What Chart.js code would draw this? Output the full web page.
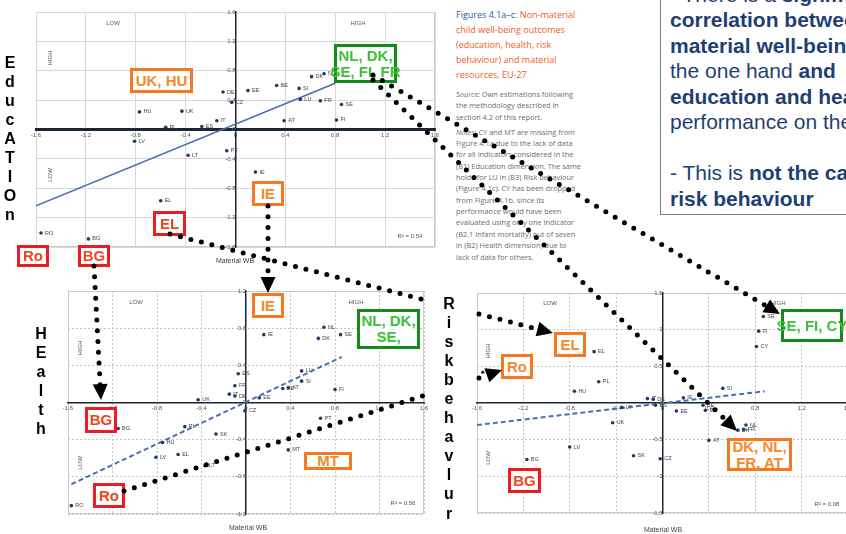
<!DOCTYPE html>
<html>
<head>
<meta charset="utf-8">
<script src="https://cdn.jsdelivr.net/npm/chart.js@4.4.1/dist/chart.umd.min.js"></script>
<style>
  body { margin: 0; background: #fff; }
  #stage { position: relative; width: 846px; height: 534px; overflow: hidden; background: #fff;
           font-family: "Liberation Sans", Arial, sans-serif; }
  canvas { position: absolute; }
  .col { position: absolute; width: 22px; text-align: center; font-weight: bold; font-size: 16px;
         line-height: 19.1px; color: #000; }
  .tag { position: absolute; box-sizing: border-box; border: 3px solid; background: #fff;
         font-weight: bold; font-size: 15px; line-height: 16px; text-align: center;
         display: flex; align-items: center; justify-content: center; white-space: nowrap; }
  .org { border-color: #f47920; color: #f7892a; }
  .red { border-color: #ec1c24; color: #f2461e; }
  .grn { border-color: #178a1e; color: #3cc23a; }
  .q { position: absolute; font-size: 6px; color: #555; white-space: nowrap; transform: translate(-50%, -50%); }
  .qv { position: absolute; font-size: 6px; color: #555; white-space: nowrap; transform: translate(-50%, -50%) rotate(-90deg); }
  .wb { position: absolute; font-size: 7px; color: #444; white-space: nowrap; transform: translate(-50%, -50%); }
  #caption { position: absolute; left: 456px; top: 7px; font-family: "Open Sans", sans-serif; font-size: 9px;
             line-height: 15px; color: #f15a29; white-space: nowrap; }
  #caption .lead { color: #2c5aa0; }
  #notes { position: absolute; left: 456px; top: 89px; font-family: "Open Sans", sans-serif; font-size: 7.4px;
           line-height: 11.36px; color: #6d6d6d; white-space: nowrap; }
  #msg { position: absolute; left: 660px; top: -40px; width: 230px; height: 255px; box-sizing: border-box;
         border: 1.5px solid #808080; background: #fff; }
  #msgText { position: absolute; left: 670px; top: -18.25px; font-size: 21px; line-height: 25.5px;
             color: #1f3f74; white-space: nowrap; }
  #arrows { position: absolute; left: 0; top: 0; }
</style>
</head>
<body>
<div id="stage">
  <canvas id="cEdu" width="430" height="262" style="left:20px;top:0px"></canvas>
  <canvas id="cHealth" width="388" height="245" style="left:52px;top:281px"></canvas>
  <canvas id="cRisk" width="403" height="242" style="left:461px;top:283px"></canvas>

  <!-- quadrant captions and axis titles -->
  <div class="q" style="left:113px;top:23px">LOW</div>
  <div class="q" style="left:358px;top:23px">HIGH</div>
  <div class="qv" style="left:50px;top:58px">HIGH</div>
  <div class="qv" style="left:50px;top:175px">LOW</div>
  <div class="q" style="left:410px;top:236px">R² = 0.54</div>
  <div class="wb" style="left:235px;top:260px">Material WB</div>

  <div class="q" style="left:136px;top:302px">LOW</div>
  <div class="q" style="left:356px;top:302px">HIGH</div>
  <div class="qv" style="left:80px;top:348px">HIGH</div>
  <div class="qv" style="left:80px;top:463px">LOW</div>
  <div class="q" style="left:403px;top:503px">R² = 0.56</div>
  <div class="wb" style="left:248px;top:527px">Material WB</div>

  <div class="q" style="left:550px;top:303px">LOW</div>
  <div class="q" style="left:778px;top:303px">HIGH</div>
  <div class="qv" style="left:488px;top:351px">HIGH</div>
  <div class="qv" style="left:488px;top:458px">LOW</div>
  <div class="q" style="left:827px;top:504px">R² = 0.08</div>
  <div class="wb" style="left:663px;top:529px">Material WB</div>

  <!-- dimension names written down the side of each panel -->
  <div class="col" style="left:-1px;top:52.5px">E<br>d<br>u<br>c<br>A<br>T<br>I<br>O<br>n</div>
  <div class="col" style="left:30px;top:323.5px">H<br>E<br>a<br>l<br>t<br>h</div>
  <div class="col" style="left:438px;top:293.5px">R<br>i<br>s<br>k<br>b<br>e<br>h<br>a<br>v<br>l<br>u<br>r</div>

  <div id="caption">
    <span class="lead">Figures 4.1a–c: </span>Non-material<br>
    child well-being outcomes<br>
    (education, health, risk<br>
    behaviour) and material<br>
    resources, EU-27
  </div>
  <div id="notes">
    <i>Source:</i> Own estimations following<br>
    the methodology described in<br>
    section 4.2 of this report.<br>
    <div style="height:3.5px"></div>
    <i>Notes:</i> CY and MT are missing from<br>
    Figure 4.1a due to the lack of data<br>
    for all indicators considered in the<br>
    (B1) Education dimension. The same<br>
    holds for LU in (B3) Risk behaviour<br>
    (Figure 4.1c). CY has been dropped<br>
    from Figure 4.1b, since its<br>
    performance would have been<br>
    evaluated using only one indicator<br>
    (B2.1 Infant mortality) out of seven<br>
    in (B2) Health dimension, due to<br>
    lack of data for others.
  </div>

  <div id="msg"></div>
  <div id="msgText">
    - There is a <b>significant</b><br>
    <b>correlation between</b><br>
    <b>material well-being</b> on<br>
    the one hand <b>and</b><br>
    <b>education and health</b><br>
    performance on the other<br>
    <br>
    - This is <b>not the case</b> for<br>
    <b>risk behaviour</b>
  </div>

  <!-- country call-outs -->
  <div class="tag org" style="left:130px;top:68px;width:63px;height:25px">UK, HU</div>
  <div class="tag grn" style="left:334px;top:44px;width:63px;height:39px">NL, DK,<br>SE, FI, FR</div>
  <div class="tag org" style="left:252px;top:181px;width:32px;height:25px">IE</div>
  <div class="tag red" style="left:153px;top:211px;width:33px;height:25px">EL</div>
  <div class="tag red" style="left:17px;top:245px;width:32px;height:22px">Ro</div>
  <div class="tag red" style="left:78px;top:245px;width:32px;height:22px">BG</div>

  <div class="tag org" style="left:252px;top:293px;width:32px;height:25px">IE</div>
  <div class="tag grn" style="left:357px;top:309px;width:63px;height:40px">NL, DK,<br>SE,</div>
  <div class="tag red" style="left:85px;top:407px;width:32px;height:26px">BG</div>
  <div class="tag org" style="left:304px;top:452px;width:48px;height:18px">MT</div>
  <div class="tag red" style="left:93px;top:483px;width:32px;height:25px">Ro</div>

  <div class="tag org" style="left:554px;top:332px;width:32px;height:25px">EL</div>
  <div class="tag org" style="left:501px;top:354px;width:32px;height:25px">Ro</div>
  <div class="tag grn" style="left:781px;top:309px;width:62px;height:33px">SE, FI, CY</div>
  <div class="tag org" style="left:727px;top:438px;width:65px;height:33px">DK, NL,<br>FR, AT</div>
  <div class="tag red" style="left:508px;top:468px;width:33px;height:25px">BG</div>

  <svg id="arrows" width="846" height="534"></svg>
</div>

<script>
// ---- Education (B1) vs material well-being ----
const eduCodes = ['RO','BG','EL','LT','LV','HU','UK','PL','ES','IT','DE','CZ','PT','IE','EE','AT','BE','SI','LU','FR','DK','NL','FI','SE','SK'];
const eduX     = [-1.56,-1.18,-0.60,-0.38,-0.81,-0.77,-0.43,-0.56,-0.27,-0.15,-0.10,-0.03,-0.07,0.16,0.10,0.39,0.33,0.51,0.52,0.68,0.61,0.71,0.81,0.85,0.86];
const eduY     = [-1.41,-1.49,-0.97,-0.35,-0.16,0.24,0.25,0.03,0.04,0.12,0.51,0.37,-0.29,-0.58,0.53,0.12,0.60,0.56,0.41,0.39,0.72,0.76,0.13,0.34,0.67];
const eduFitX  = [-1.6, 0.8];
const eduFitY  = [-1.04, 0.63];

// ---- Health (B2) vs material well-being ----
const healthCodes = ['RO','BG','PL','HU','LV','EL','LT','SK','UK','IT','DE','FR','ES','CZ','EE','IE','NL','DK','SE','LU','SI','AT','BE','FI','PT','MT'];
const healthX     = [-1.57,-1.15,-0.55,-0.75,-0.81,-0.61,-0.37,-0.27,-0.43,-0.15,-0.10,-0.10,-0.07,-0.01,0.12,0.16,0.70,0.65,0.85,0.50,0.50,0.38,0.33,0.80,0.67,0.38];
const healthY     = [-1.11,-0.28,-0.26,-0.43,-0.59,-0.56,-0.68,-0.34,0.03,0.09,0.07,0.18,0.31,-0.09,0.05,0.73,0.81,0.69,0.73,0.34,0.23,0.16,0.15,0.14,-0.17,-0.51];
const healthFitX  = [-1.57, 0.86];
const healthFitY  = [-0.88, 0.49];

// ---- Risk behaviour (B3) vs material well-being ----
const riskCodes = ['EL','PL','HU','RO','IT','DE','ES','EE','LT','UK','LV','BG','SK','CZ','IE','BE','MT','SI','AT','NL','DK','FR','FI','CY','SE'];
const riskX     = [-0.59,-0.55,-0.76,-1.55,-0.13,-0.08,-0.06,0.12,-0.35,-0.43,-0.80,-1.17,-0.25,-0.02,0.18,0.35,0.37,0.52,0.40,0.72,0.65,0.70,0.83,0.81,0.87];
const riskY     = [0.70,0.29,0.16,0.42,0.06,0.05,-0.03,-0.11,-0.06,-0.27,-0.60,-0.77,-0.72,-0.76,0.07,-0.03,-0.10,0.20,-0.51,-0.30,-0.37,-0.36,0.98,0.77,1.18];
const riskFitX  = [-1.6, 0.88];
const riskFitY  = [-0.30, 0.16];

// tick values on each axis
const wbTicks     = [-1.6,-1.2,-0.8,-0.4,0,0.4,0.8,1.2,1.6];
const eduTicks    = [-1.6,-1.2,-0.8,-0.4,0,0.4,0.8,1.2,1.6];
const healthTicks = [-1.2,-0.8,-0.4,0,0.4,0.8,1.2];
const riskTicks   = [-1.5,-1,-0.5,0,0.5,1,1.5];

const pairs = (xs, ys) => xs.map((x, i) => ({ x, y: ys[i] }));

// small country codes beside each point
const codeLabels = {
  id: 'codeLabels',
  afterDatasetsDraw(chart) {
    const ds = chart.data.datasets[0];
    const meta = chart.getDatasetMeta(0);
    const ctx = chart.ctx;
    ctx.save();
    ctx.font = '5.5px "Liberation Sans", Arial, sans-serif';
    ctx.fillStyle = '#444';
    ctx.textBaseline = 'middle';
    meta.data.forEach((el, i) => ctx.fillText(ds.codes[i], el.x + 4, el.y));
    ctx.restore();
  }
};

// light frame round the plotting area
const frame = {
  id: 'frame',
  beforeDraw(chart) {
    const a = chart.chartArea, ctx = chart.ctx;
    ctx.save();
    ctx.strokeStyle = '#c9c9c9';
    ctx.lineWidth = 1;
    ctx.strokeRect(a.left + 0.5, a.top + 0.5, a.right - a.left - 1, a.bottom - a.top - 1);
    ctx.restore();
  }
};

function panel(id, cfg) {
  const gridColor = c => (c.tick && c.tick.value === 0) ? 'rgba(0,0,0,0)' : cfg.gridColor;
  const fmt = cfg.fmt;
  const axisBase = (ticks, min, max, pos, bw) => ({
    type: 'linear', min, max, position: pos,
    afterBuildTicks: s => { s.ticks = ticks.map(v => ({ value: v })); },
    grid: { color: gridColor, lineWidth: 1, drawTicks: false },
    border: { display: true, color: '#1d2733', width: bw, dash: cfg.gridDash },
    ticks: { font: { size: 6, family: '"Liberation Sans", Arial, sans-serif' }, color: '#555', padding: 2,
             autoSkip: false, maxRotation: 0, callback: v => fmt(v) }
  });
  return new Chart(document.getElementById(id), {
    type: 'scatter',
    data: {
      datasets: [
        { data: pairs(cfg.xs, cfg.ys), codes: cfg.codes, pointRadius: 1.8, pointBorderWidth: 0,
          pointBackgroundColor: '#1f3a6b' },
        { type: 'line', data: pairs(cfg.fitX, cfg.fitY), borderColor: '#4a6fb5', borderWidth: cfg.fitWidth,
          borderDash: cfg.fitDash, pointRadius: 0, fill: false }
      ]
    },
    options: {
      responsive: false, animation: false, events: [],
      layout: { padding: cfg.padding },
      plugins: { legend: { display: false }, tooltip: { enabled: false } },
      scales: {
        x: axisBase(wbTicks, -1.6, 1.6, { y: 0 }, cfg.xAxisWidth),
        y: axisBase(cfg.yTicks, cfg.yMin, cfg.yMax, { x: 0 }, 1.5)
      }
    },
    plugins: [frame, codeLabels]
  });
}

const oneDec = v => v === 0 ? '0' : v.toFixed(1);

panel('cEdu', {
  xs: eduX, ys: eduY, codes: eduCodes, fitX: eduFitX, fitY: eduFitY,
  yTicks: eduTicks, yMin: -1.6, yMax: 1.6, fmt: oneDec,
  gridColor: '#d8d8d8', gridDash: [], fitWidth: 1.6, fitDash: [], xAxisWidth: 3,
  padding: { left: 16, top: 12, right: 15, bottom: 15 }
});
panel('cHealth', {
  xs: healthX, ys: healthY, codes: healthCodes, fitX: healthFitX, fitY: healthFitY,
  yTicks: healthTicks, yMin: -1.2, yMax: 1.2, fmt: oneDec,
  gridColor: '#c4c4c4', gridDash: [2, 2], fitWidth: 2, fitDash: [5, 3], xAxisWidth: 1.5,
  padding: { left: 16, top: 10, right: 16, bottom: 12 }
});
panel('cRisk', {
  xs: riskX, ys: riskY, codes: riskCodes, fitX: riskFitX, fitY: riskFitY,
  yTicks: riskTicks, yMin: -1.5, yMax: 1.5, fmt: v => String(v),
  gridColor: '#c4c4c4', gridDash: [2, 2], fitWidth: 2, fitDash: [5, 3], xAxisWidth: 1.5,
  padding: { left: 16, top: 10, right: 16, bottom: 12 }
});

// dotted connector arrows between the panels
const connectors = [
  { segs: [[373, 75]], tip: [780, 314] },
  { segs: [[373, 80]], tip: [737, 431] },
  { segs: [[170, 234, 429, 301], [479, 314]], tip: [553, 333] },
  { segs: [[268, 206]], tip: [268, 293] },
  { segs: [[94, 266]], tip: [101, 400] },
  { segs: [[124, 491, 429, 394], [479, 378]], tip: [502, 370] }
];
const svg = document.getElementById('arrows');
const NS = 'http://www.w3.org/2000/svg';
connectors.forEach(c => {
  const last = c.segs[c.segs.length - 1];
  const [tx, ty] = c.tip;
  const dx = tx - last[0], dy = ty - last[1];
  const len = Math.hypot(dx, dy), ux = dx / len, uy = dy / len;
  c.segs.forEach((s, i) => {
    const isLast = i === c.segs.length - 1;
    const x2 = isLast ? tx - ux * 15 : s[2];
    const y2 = isLast ? ty - uy * 15 : s[3];
    const ln = document.createElementNS(NS, 'line');
    ln.setAttribute('x1', s[0]); ln.setAttribute('y1', s[1]);
    ln.setAttribute('x2', x2); ln.setAttribute('y2', y2);
    ln.setAttribute('stroke', '#000'); ln.setAttribute('stroke-width', '5');
    ln.setAttribute('stroke-linecap', 'round'); ln.setAttribute('stroke-dasharray', '0 10.8');
    svg.appendChild(ln);
  });
  const bx = tx - ux * 16, by = ty - uy * 16, px = -uy * 7.5, py = ux * 7.5;
  const tri = document.createElementNS(NS, 'polygon');
  tri.setAttribute('points', `${tx},${ty} ${bx + px},${by + py} ${bx - px},${by - py}`);
  tri.setAttribute('fill', '#000');
  svg.appendChild(tri);
});
</script>
</body>
</html>
